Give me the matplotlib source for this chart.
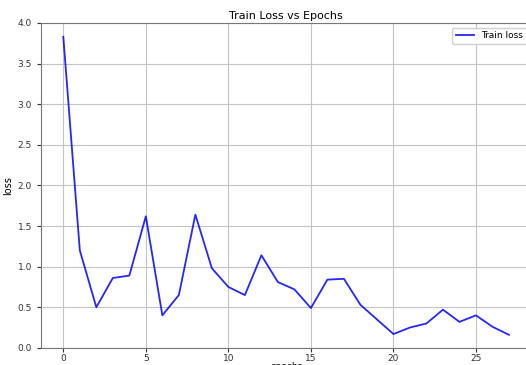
import matplotlib
matplotlib.use("Agg")
from matplotlib import pyplot as plt

# training loss per epoch
epochs = list(range(28))
train_loss = [3.83, 1.20, 0.50, 0.86, 0.89, 1.62, 0.40, 0.65, 1.64, 0.98,
              0.75, 0.65, 1.14, 0.81, 0.72, 0.49, 0.84, 0.85, 0.53, 0.35,
              0.17, 0.25, 0.30, 0.47, 0.32, 0.40, 0.26, 0.16]

fig = plt.figure(figsize=(5.26, 3.65), dpi=100)
ax = fig.add_axes([0.078, 0.047, 0.932, 0.890])

ax.plot(epochs, train_loss, color='b', alpha=0.85, linewidth=1.3, label='Train loss')
ax.set_ylim(0, 4)
ax.grid(True, color='#c4c4c4', linewidth=0.8)
for s in ax.spines.values():
    s.set_color('#777777')
ax.tick_params(labelsize=6.5, colors='#333333', length=3)
ax.tick_params(axis='x', pad=1.5)

ax.set_xlabel('epochs', fontsize=6.5, labelpad=-1)
ax.set_ylabel('loss', fontsize=7, labelpad=3)
ax.set_title('Train Loss vs Epochs', fontsize=8, pad=3)
ax.legend(loc='upper right', fontsize=6.5, framealpha=0.9)

plt.savefig('out.png', dpi=100)
